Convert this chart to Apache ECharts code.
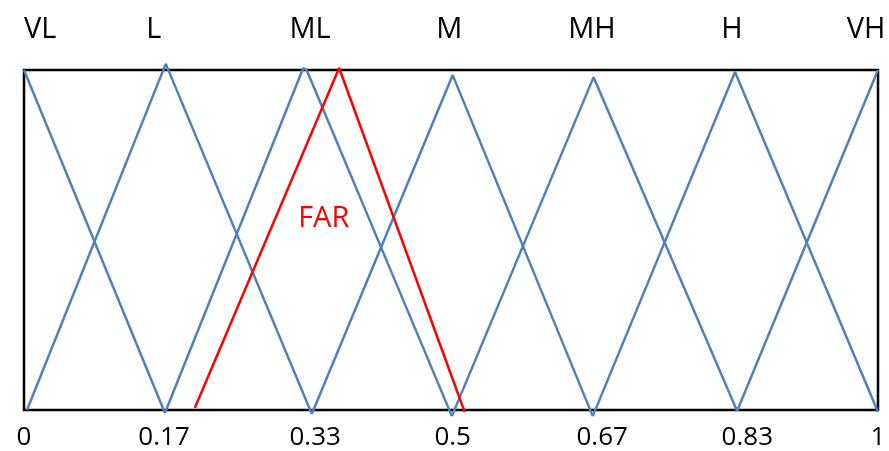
<!DOCTYPE html>
<html>
<head>
<meta charset="utf-8">
<script src="https://cdn.jsdelivr.net/npm/echarts@6/dist/echarts.min.js"></script>
<style>html,body{margin:0;padding:0;background:#fff}#c{width:889px;height:451px}</style>
</head>
<body>
<div id="c"></div>
<script>
// Tick labels (bottom) and their read positions
const tickLabels = ['0', '0.17', '0.33', '0.5', '0.67', '0.83', '1'];
const tickPos = [0, 0.164, 0.341, 0.502, 0.677, 0.847, 1];
// Set names (top) and their read positions
const setNames = ['VL', 'L', 'ML', 'M', 'MH', 'H', 'VH'];
const setPos = [0.019, 0.152, 0.335, 0.498, 0.665, 0.829, 0.986];

// Membership function polylines [x, membership]
const VL = [[0, 1], [0.165, -0.009]];
const L = [[0.0035, 0], [0.166, 1.018], [0.337, -0.012]];
const ML = [[0.165, -0.009], [0.327, 1.006], [0.331, 1.0], [0.501, -0.018]];
const M = [[0.337, -0.012], [0.502, 0.985], [0.666, -0.018]];
const MH = [[0.501, -0.018], [0.667, 0.979], [0.835, -0.003]];
const H = [[0.666, -0.018], [0.8326, 0.994], [1.0, -0.006]];
const VH = [[0.835, -0.003], [1.0, 1.0]];
const FAR = [[0.200, 0.006], [0.369, 1.006], [0.516, -0.006]];
const farLabelPos = [0.351, 0.563];

const FONT = 'Open Sans';
const blue = '#4F81BD';
function nearestLabel(v, pos, labels) {
  let best = 0;
  for (let i = 1; i < pos.length; i++) if (Math.abs(pos[i] - v) < Math.abs(pos[best] - v)) best = i;
  return labels[best];
}
const blueSets = [VL, L, ML, M, MH, H, VH];
const series = blueSets.map((d, i) => ({
  name: setNames[i], type: 'line', data: d, symbol: 'none', clip: false, silent: true,
  lineStyle: { color: blue, width: 2.5 }, animation: false
}));
series.push({
  name: 'FAR', type: 'line', data: FAR, symbol: 'none', clip: false, silent: true,
  lineStyle: { color: '#FF0000', width: 2.5 }, animation: false,
  markPoint: {
    symbol: 'circle', symbolSize: 0, silent: true, animation: false,
    data: [{ coord: farLabelPos }],
    label: { show: true, formatter: 'FAR', color: '#FF0000', fontSize: 29, fontFamily: FONT, position: 'inside' }
  }
});

const chart = echarts.init(document.getElementById('c'), null, { renderer: 'canvas' });
chart.setOption({
  backgroundColor: '#fff',
  animation: false,
  grid: { left: 24, top: 70, right: 11, bottom: 41, show: true, borderColor: '#000', borderWidth: 2.5, backgroundColor: 'transparent' },
  xAxis: [{
    type: 'value', min: 0, max: 1, position: 'bottom',
    axisLine: { show: false }, axisTick: { show: false }, splitLine: { show: false },
    axisLabel: {
      customValues: tickPos, showMinLabel: true, showMaxLabel: true,
      formatter: v => nearestLabel(v, tickPos, tickLabels),
      fontSize: 26, fontFamily: FONT, color: '#000', margin: 28, verticalAlign: 'middle'
    }
  }, {
    type: 'value', min: 0, max: 1, position: 'top',
    axisLine: { show: false }, axisTick: { show: false }, splitLine: { show: false },
    axisLabel: {
      customValues: setPos, showMinLabel: true, showMaxLabel: true,
      formatter: v => nearestLabel(v, setPos, setNames),
      fontSize: 29, fontFamily: FONT, color: '#000', margin: 40, verticalAlign: 'middle'
    }
  }],
  yAxis: { type: 'value', min: 0, max: 1, show: false },
  series: series
});
</script>
</body>
</html>
